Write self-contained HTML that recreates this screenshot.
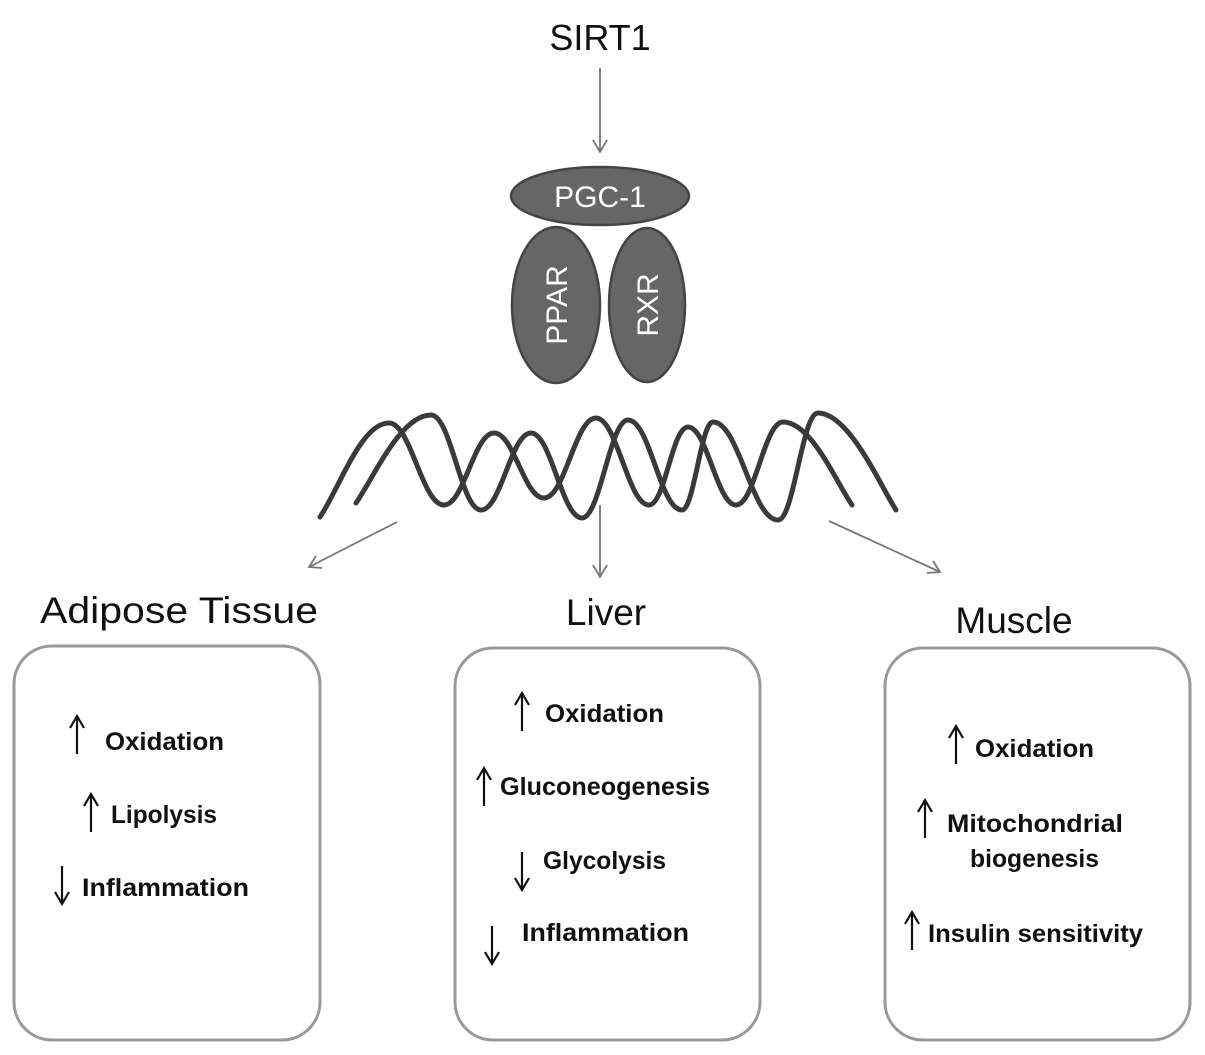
<!DOCTYPE html>
<html><head><meta charset="utf-8"><style>
html,body{margin:0;padding:0;background:#fff;}
svg{display:block;}
.h{font-family:"Liberation Sans",sans-serif;fill:#111;}
.b{font-family:"Liberation Sans",sans-serif;font-weight:bold;font-size:25px;fill:#111;}
</style></head><body>
<svg width="1205" height="1055" viewBox="0 0 1205 1055" xmlns="http://www.w3.org/2000/svg">
<text x="600" y="50" text-anchor="middle" class="h" font-size="36">SIRT1</text>
<g stroke="#777" stroke-width="1.8" fill="none">
<line x1="600" y1="68" x2="600" y2="152"/><path d="M593,140 L600,152 L607,140"/>
<line x1="397" y1="522" x2="309" y2="567"/><path d="M316,556 L309,567 L322,568"/>
<line x1="600" y1="505" x2="600" y2="577"/><path d="M593,565 L600,577 L607,565"/>
<line x1="829" y1="521" x2="940" y2="572"/><path d="M927,573 L940,572 L933,561"/>
</g>
<ellipse cx="556" cy="305" rx="44" ry="78" fill="#666" stroke="#444" stroke-width="2.5"/>
<ellipse cx="647" cy="305" rx="38" ry="77" fill="#666" stroke="#444" stroke-width="2.5"/>
<ellipse cx="600" cy="196" rx="89" ry="29" fill="#666" stroke="#444" stroke-width="2.5"/>
<text x="600" y="207" text-anchor="middle" class="h" font-size="30" style="fill:#fff">PGC-1</text>
<text transform="translate(567,305) rotate(-90)" text-anchor="middle" class="h" font-size="30" style="fill:#fff">PPAR</text>
<text transform="translate(658,305) rotate(-90)" text-anchor="middle" class="h" font-size="30" style="fill:#fff">RXR</text>
<g fill="none" stroke="#3a3a3a" stroke-width="5" stroke-linecap="round">
<path d="M320,517 C340,487 361,423 389,423 C411,423 422,505 444,505 C464,505 474,433 494,433 C514,433 524,498 544,498 C565,498 575,418 596,418 C617,418 628,505 649,505 C665,505 672,427 688,427 C707,427 717,505 736,505 C755,505 764,422 783,422 C811,422 835,480 852,505"/>
<path d="M356,503 C375,475 401,415 431,415 C451,415 461,510 481,510 C501,510 511,433 531,433 C551,433 562,518 582,518 C600,518 610,420 628,420 C650,420 660,510 682,510 C694,510 701,422 713,422 C739,422 752,520 778,520 C794,520 802,413 818,413 C849,413 880,485 896,510"/>
</g>
<text x="40" y="623" class="h" font-size="37" textLength="278" lengthAdjust="spacingAndGlyphs">Adipose Tissue</text>
<text x="606" y="625" text-anchor="middle" class="h" font-size="37">Liver</text>
<text x="1014" y="633" text-anchor="middle" class="h" font-size="37">Muscle</text>
<g fill="none" stroke="#999" stroke-width="3">
<rect x="14" y="646" width="306" height="394" rx="38"/>
<rect x="455" y="648" width="305" height="392" rx="38"/>
<rect x="885" y="648" width="305" height="392" rx="38"/>
</g>
<g stroke="#111" stroke-width="2.2" fill="none">
<path d="M77,754 V716 M70,728 L77,716 L84,728"/>
<path d="M91,832 V794 M84,806 L91,794 L98,806"/>
<path d="M62,866 V904 M55,892 L62,904 L69,892"/>
<path d="M522,731 V693 M515,705 L522,693 L529,705"/>
<path d="M484,806 V768 M477,780 L484,768 L491,780"/>
<path d="M522,852 V890 M515,878 L522,890 L529,878"/>
<path d="M492,926 V964 M485,952 L492,964 L499,952"/>
<path d="M956,764 V726 M949,738 L956,726 L963,738"/>
<path d="M925,838 V800 M918,812 L925,800 L932,812"/>
<path d="M912,950 V912 M905,924 L912,912 L919,924"/>
</g>
<g>
<text x="105" y="750" class="b" textLength="119" lengthAdjust="spacingAndGlyphs">Oxidation</text>
<text x="111" y="823" class="b" textLength="106" lengthAdjust="spacingAndGlyphs">Lipolysis</text>
<text x="82" y="896" class="b" textLength="167" lengthAdjust="spacingAndGlyphs">Inflammation</text>
<text x="545" y="722" class="b" textLength="119" lengthAdjust="spacingAndGlyphs">Oxidation</text>
<text x="500" y="795" class="b" textLength="210" lengthAdjust="spacingAndGlyphs">Gluconeogenesis</text>
<text x="543" y="869" class="b" textLength="123" lengthAdjust="spacingAndGlyphs">Glycolysis</text>
<text x="522" y="941" class="b" textLength="167" lengthAdjust="spacingAndGlyphs">Inflammation</text>
<text x="975" y="757" class="b" textLength="119" lengthAdjust="spacingAndGlyphs">Oxidation</text>
<text x="947" y="832" class="b" textLength="176" lengthAdjust="spacingAndGlyphs">Mitochondrial</text>
<text x="970" y="867" class="b" textLength="129" lengthAdjust="spacingAndGlyphs">biogenesis</text>
<text x="928" y="942" class="b" textLength="215" lengthAdjust="spacingAndGlyphs">Insulin sensitivity</text>
</g>
</svg>
</body></html>
